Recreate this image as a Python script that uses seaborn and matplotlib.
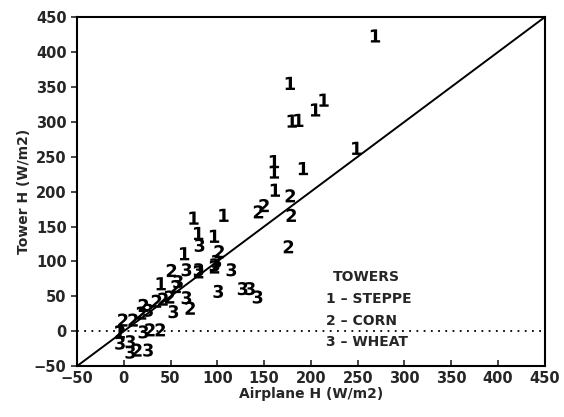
import matplotlib
matplotlib.use("Agg")
import matplotlib.pyplot as plt
import seaborn as sns
import pandas as pd

# Data (Airplane H, Tower H) in W/m2
steppe_x = [269, 178, 180, 187, 205, 214, 249, 161, 161, 192, 162, 75, 107, 80, 97, 65, 40, -4]
steppe_y = [423, 355, 301, 302, 317, 331, 262, 243, 228, 233, 202, 162, 166, 140, 136, 111, 68, -1]

corn_x = [178, 179, 176, 144, 150, 102, 97, 51, 80, 35, 42, 49, 56, 71, 21, 19, -1, 10, -4, 28, 39, 14]
corn_y = [194, 166, 121, 171, 180, 114, 92, 87, 85, 43, 46, 49, 64, 33, 37, 26, 16, 16, -1, 2, 2, -27]

wheat_x = [81, 99, 67, 115, 101, 127, 135, 143, 80, 58, 53, 67, 26, 21, -4, 7, 7, 26, 97]
wheat_y = [123, 100, 88, 88, 57, 61, 61, 49, 88, 71, 28, 48, 30, -1, -17, -15, -30, -27, 95]

ticks = [-50, 0, 50, 100, 150, 200, 250, 300, 350, 400, 450]
legend_title = "TOWERS"
legend_lines = ["1 \u2013 STEPPE", "2 \u2013 CORN", "3 \u2013 WHEAT"]

df = pd.DataFrame({
    "x": steppe_x + corn_x + wheat_x,
    "y": steppe_y + corn_y + wheat_y,
    "tower": ["1"] * len(steppe_x) + ["2"] * len(corn_x) + ["3"] * len(wheat_x),
})

sns.set_style("ticks")
plt.rcParams["font.family"] = ["DejaVu Sans"]
plt.rcParams["mathtext.fontset"] = "custom"
plt.rcParams["mathtext.bf"] = "DejaVu Sans:bold"

fig = plt.figure(figsize=(5.64, 4.17), dpi=100)
ax = fig.add_axes([0.1365, 0.122, 0.8295, 0.837])

sns.lineplot(x=[-50, 450], y=[-50, 450], color="black", lw=1.4, ax=ax)
ax.axhline(0, color="black", lw=1.3, ls=(0, (1, 3)))

sns.scatterplot(data=df, x="x", y="y", style="tower",
                markers={"1": r"$\mathbf{1}$", "2": r"$\mathbf{2}$", "3": r"$\mathbf{3}$"},
                color="black", s=90, linewidth=0, legend=False, ax=ax)

ax.set_xlim(-50, 450)
ax.set_ylim(-50, 450)
ax.set_xticks(ticks)
ax.set_yticks(ticks)
ax.tick_params(axis="x", direction="in", length=4, width=1.2)
ax.tick_params(axis="y", direction="out", length=4, width=1.2)
for lab in ax.get_xticklabels() + ax.get_yticklabels():
    lab.set_fontweight("bold")
    lab.set_fontsize(10.5)
for sp in ax.spines.values():
    sp.set_visible(True)
    sp.set_linewidth(1.5)
    sp.set_color("black")

ax.set_xlabel("Airplane H (W/m2)", fontsize=10, fontweight="bold", labelpad=1)
ax.set_ylabel("Tower H (W/m2)", fontsize=10, fontweight="bold", labelpad=2)

ax.text(223, 77, legend_title, fontsize=10, fontweight="bold", va="center", ha="left")
for i, t in enumerate(legend_lines):
    ax.text(216, 46 - 31 * i, t, fontsize=10, fontweight="bold", va="center", ha="left")

fig.savefig("out.png", dpi=100)
